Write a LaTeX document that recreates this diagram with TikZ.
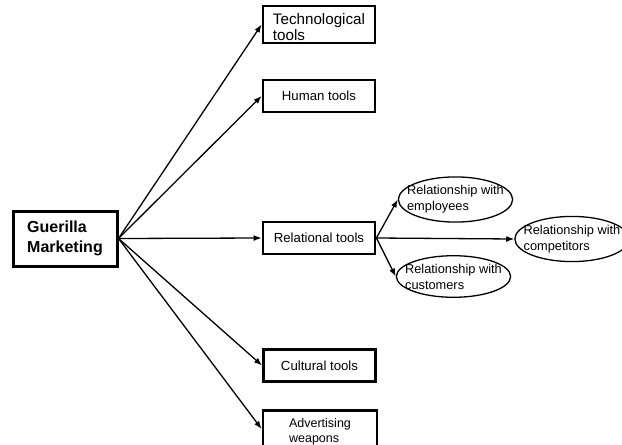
\documentclass[tikz,border=0pt]{standalone}
\usepackage{fontspec}
\setmainfont{Liberation Sans}
\usetikzlibrary{shapes.geometric, arrows.meta}
\tikzset{
	tool/.style={rectangle, draw, line width=2.8pt, minimum width=112pt, minimum height=32pt, align=left, inner sep=2pt, font=\fontsize{13.2}{15}\selectfont},
	link/.style={ellipse, draw, line width=1.3pt, align=left, inner xsep=-8pt, inner ysep=2pt, font=\fontsize{12.8}{16}\selectfont},
	line/.style={draw, line width=1.3pt, -{Latex[length=8pt, width=6pt]}}
}

\begin{document}
\begin{tikzpicture}[
	x=1pt, y=-1pt,
	% Styles
	root/.style = {draw, rectangle, line width=3pt, minimum width=104pt, minimum height=55pt, align=left, inner sep=2pt, font=\bfseries\fontsize{16}{20}\selectfont}
	]
	\useasboundingbox (0,0) rectangle (622,445);
	
	% Left: the root
	\node[root] (guer) at (65,238.5) {Guerilla\\Marketing};
	
	% Middle column: the tools
	\node[tool, font=\fontsize{15.2}{16}\selectfont] (tech) at (319,24.5) {\rule{0pt}{17pt}Technological\\tools};
	\node[tool] (human) at (319,96) {Human tools};
	\node[tool] (rel) at (319,238) {Relational tools};
	\node[tool] (cult) at (319.5,365.5) {Cultural tools};
	\node[tool, minimum width=114pt, font=\fontsize{12.5}{15}\selectfont] (adv) at (320,429) {\rule{0pt}{15pt}Advertising\\weapons};
	
	% Right side: relationships
	\node[link] (emp) at (455.5,199.5) {Relationship with\\employees};
	\node[link] (cus) at (453.5,276.5) {Relationship with\\customers};
	\node[link] (comp) at (572,239) {Relationship with\\competitors};
	
	% Paths
	\foreach \t in {tech, human, rel, cult, adv}
		\draw[line] (guer.east) -- (\t.west);
	
	\draw[line] (rel.east) -- (emp.west);
	\draw[line] (rel.east) -- (cus.west);
	\draw[line] (rel.east) -- (comp.west);
	
\end{tikzpicture}
\end{document}
